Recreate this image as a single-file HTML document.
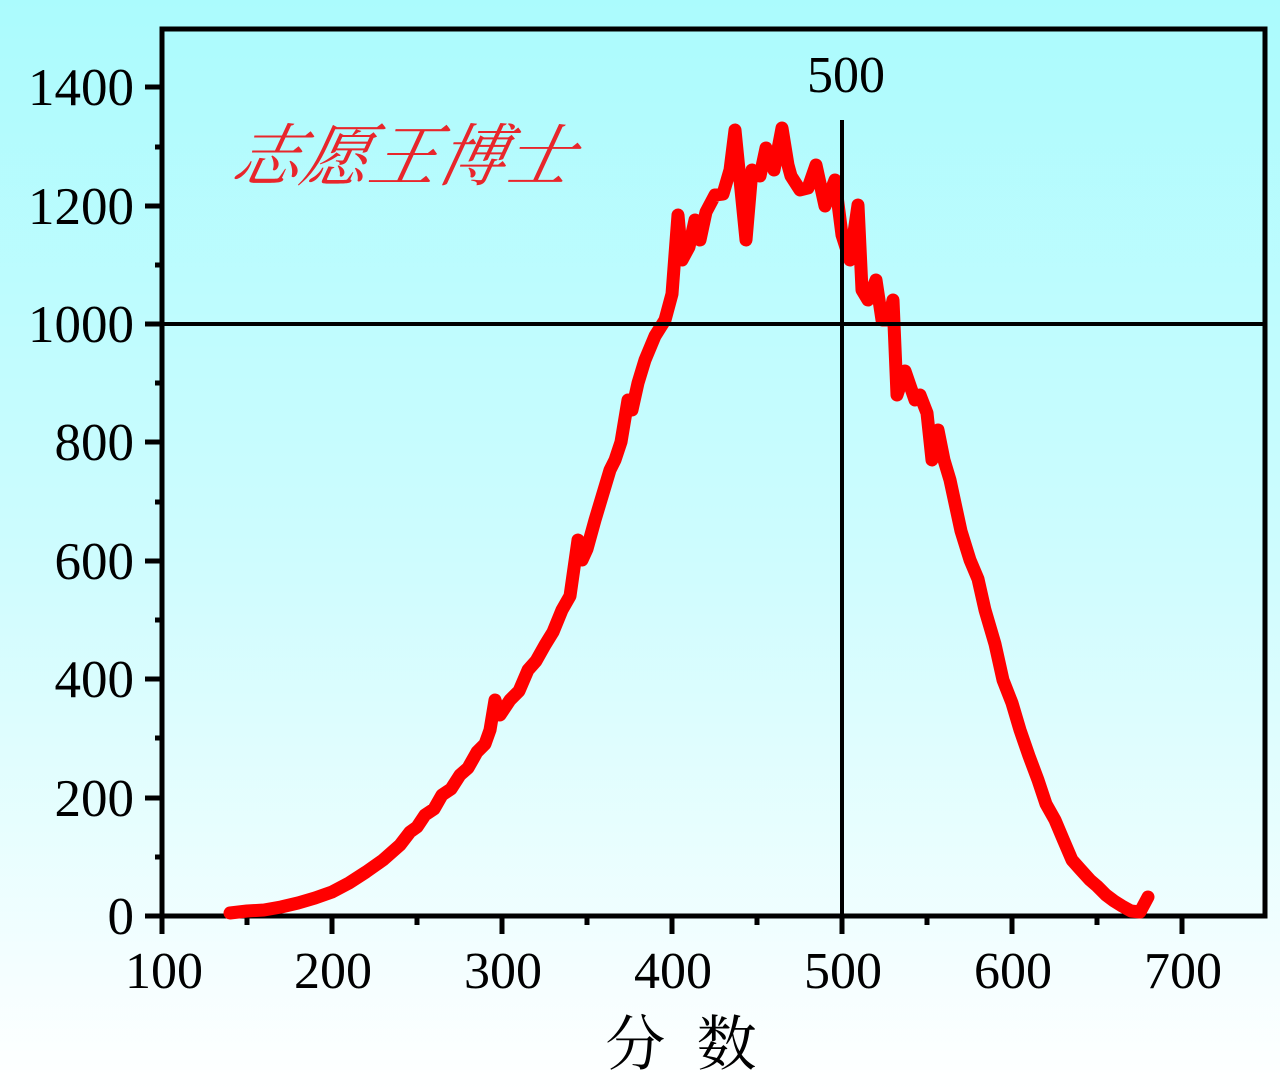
<!DOCTYPE html>
<html style="background:#fff"><head><meta charset="utf-8"><style>
html,body{margin:0;padding:0}
body{width:1280px;height:1090px;background:linear-gradient(#abfbfd 0%,#cdfcfe 50%,#ffffff 100%);overflow:hidden}
svg{display:block}
svg text{font-family:"Liberation Serif","Noto Serif CJK SC",serif;fill:#000}
</style></head><body>
<svg width="1280" height="1090" viewBox="0 0 1280 1090">
<g stroke="#000" stroke-width="5" fill="none">
<rect x="162" y="29" width="1103" height="887"/>
</g>
<g stroke="#000" stroke-width="5">
<line x1="145" y1="916" x2="162" y2="916"/><line x1="145" y1="798" x2="162" y2="798"/><line x1="145" y1="679" x2="162" y2="679"/><line x1="145" y1="561" x2="162" y2="561"/><line x1="145" y1="442" x2="162" y2="442"/><line x1="145" y1="324" x2="162" y2="324"/><line x1="145" y1="206" x2="162" y2="206"/><line x1="145" y1="87" x2="162" y2="87"/>
<line x1="155" y1="857" x2="162" y2="857"/><line x1="155" y1="738" x2="162" y2="738"/><line x1="155" y1="620" x2="162" y2="620"/><line x1="155" y1="502" x2="162" y2="502"/><line x1="155" y1="383" x2="162" y2="383"/><line x1="155" y1="265" x2="162" y2="265"/><line x1="155" y1="147" x2="162" y2="147"/>
<line x1="162" y1="916" x2="162" y2="934"/><line x1="332" y1="916" x2="332" y2="934"/><line x1="502" y1="916" x2="502" y2="934"/><line x1="672" y1="916" x2="672" y2="934"/><line x1="842" y1="916" x2="842" y2="934"/><line x1="1012" y1="916" x2="1012" y2="934"/><line x1="1182" y1="916" x2="1182" y2="934"/>
<line x1="247" y1="916" x2="247" y2="925"/><line x1="417" y1="916" x2="417" y2="925"/><line x1="587" y1="916" x2="587" y2="925"/><line x1="757" y1="916" x2="757" y2="925"/><line x1="927" y1="916" x2="927" y2="925"/><line x1="1097" y1="916" x2="1097" y2="925"/>
</g>
<g font-size="53" text-anchor="end">
<text x="134" y="934">0</text><text x="134" y="816">200</text><text x="134" y="697">400</text><text x="134" y="579">600</text><text x="134" y="460">800</text><text x="134" y="342">1000</text><text x="134" y="224">1200</text><text x="134" y="105">1400</text>
</g>
<g font-size="52" text-anchor="middle">
<text x="164" y="988">100</text><text x="333" y="988">200</text><text x="503" y="988">300</text><text x="673" y="988">400</text><text x="843" y="988">500</text><text x="1013" y="988">600</text><text x="1183" y="988">700</text>
<text x="846" y="92">500</text>
</g>
<text x="685" y="1065" font-size="60" text-anchor="middle" letter-spacing="8" style="font-family:'Noto Serif CJK SC','Noto Sans CJK SC',serif">分 数</text>
<text x="232" y="180" font-size="68" style="fill:#e8262b;font-family:'Noto Serif CJK SC',serif;font-style:italic" transform="skewX(-12) translate(36 0)">志愿王博士</text>
<polyline fill="none" stroke="#ff0000" stroke-width="13" stroke-linejoin="round" stroke-linecap="round" points="230,913 247,911 264,910 281,907 298,903 315,898 332,892 349,883 366,872 383,860 400,845 410,832 417,827 425,815 434,809 442,795 451,789 460,775 468,768 477,752 485,744 490,730 495,700 500,715 510,700 519,691 528,670 536,661 545,645 553,632 562,610 570,596 578,540 582,560 587,549 595,520 604,490 610,470 615,460 621,442 628,400 632,410 638,383 645,360 655,336 665,320 672,294 678,215 682,260 689,247 695,220 700,240 706,212 715,195 723,194 730,170 735,130 740,180 746,240 752,170 760,176 766,148 774,170 782,128 788,165 791,176 800,190 808,188 816,165 825,206 835,180 842,235 850,260 858,205 862,290 868,300 876,280 882,320 889,320 893,300 897,395 905,371 915,400 920,395 927,413 932,460 938,430 944,460 950,480 961,531 970,560 978,579 985,610 995,644 1003,680 1012,703 1020,730 1029,756 1038,780 1046,804 1055,820 1063,839 1072,860 1080,869 1090,880 1097,886 1106,895 1114,901 1122,906 1131,911 1140,912 1148,897"/>
<g stroke="#000" stroke-width="4">
<line x1="162" y1="324" x2="1265" y2="324"/>
<line x1="842" y1="120" x2="842" y2="916"/>
</g>
</svg>
</body></html>
